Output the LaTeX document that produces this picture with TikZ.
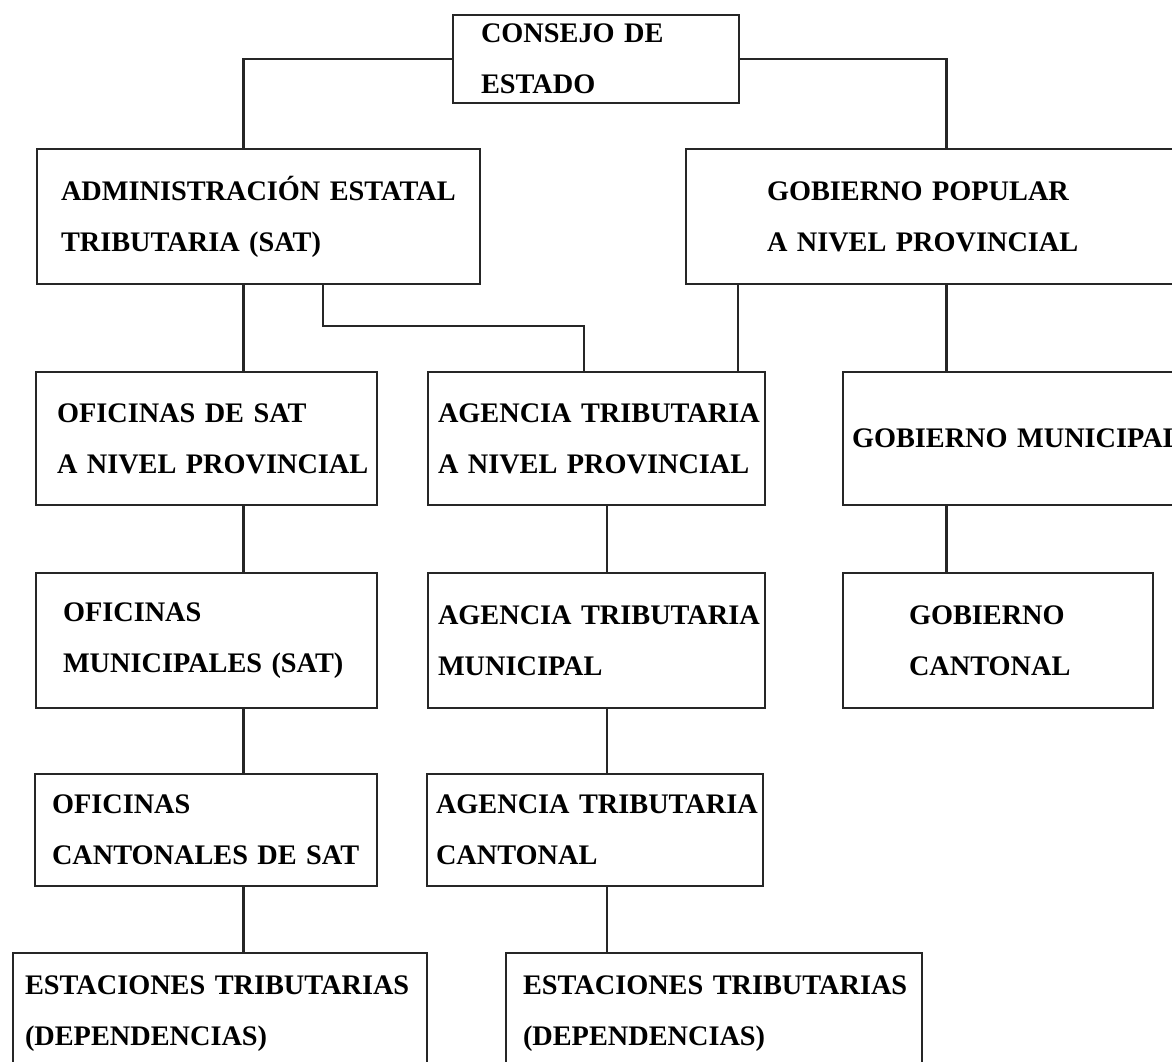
\documentclass[tikz,border=0pt]{standalone}
\usepackage{fontspec}
\setmainfont{Liberation Serif}
\usetikzlibrary{positioning}
\hyphenpenalty=10000
\exhyphenpenalty=10000

\begin{document}
\begin{tikzpicture}[
  x=1pt, y=-1pt,
  box/.style={rectangle, draw=black!85, line width=2.5pt, inner sep=0pt, align=left, text=black, font=\bfseries\fontsize{28.3}{51}\selectfont},
  link/.style={draw=black!85, line width=2.3pt}
]
\useasboundingbox (0,0) rectangle (1172,1062);

% Top
\node[box, minimum width=286pt, minimum height=88pt, text width=230pt] (consejo) at (596,59) {CONSEJO~DE\\ESTADO};

% Second row
\node[box, minimum width=443pt, minimum height=135pt, text width=395pt] (admin) at (258.5,216.5) {ADMINISTRACIÓN~ESTATAL\\TRIBUTARIA~(SAT)};
\node[box, minimum width=494pt, minimum height=135pt, text width=332pt] (gobpop) at (933,216.5) {GOBIERNO~POPULAR\\A~NIVEL~PROVINCIAL};

% Provincial level
\node[box, minimum width=341pt, minimum height=133pt, text width=299pt] (ofiprov) at (206.5,438.5) {OFICINAS~DE~SAT\\A~NIVEL~PROVINCIAL};
\node[box, minimum width=337pt, minimum height=133pt, text width=317pt] (agprov) at (596.5,438.5) {AGENCIA~TRIBUTARIA\\A~NIVEL~PROVINCIAL};
\node[box, minimum width=337pt, minimum height=133pt, text width=319pt] (gobmun) at (1011.5,438.5) {GOBIERNO~MUNICIPAL};

% Municipal level
\node[box, minimum width=341pt, minimum height=135pt, text width=287pt] (ofimun) at (206.5,640.5) {OFICINAS\\MUNICIPALES~(SAT)};
\node[box, minimum width=337pt, minimum height=135pt, text width=317pt] (agmun) at (596.5,640.5) {AGENCIA~TRIBUTARIA\\MUNICIPAL};
\node[box, minimum width=310pt, minimum height=135pt, text width=178pt] (gobcant) at (998,640.5) {GOBIERNO\\CANTONAL};

% Cantonal level
\node[box, minimum width=342pt, minimum height=112pt, text width=308pt] (oficant) at (206,830) {OFICINAS\\CANTONALES~DE~SAT};
\node[box, minimum width=336pt, minimum height=112pt, text width=318pt] (agcant) at (595,830) {AGENCIA~TRIBUTARIA\\CANTONAL};

% Stations
\node[box, minimum width=414pt, minimum height=122pt, text width=390pt] (est1) at (220,1014) {ESTACIONES~TRIBUTARIAS\\(DEPENDENCIAS)};
\node[box, minimum width=416pt, minimum height=122pt, text width=382pt] (est2) at (714,1014) {ESTACIONES~TRIBUTARIAS\\(DEPENDENCIAS)};

% Column lines
\coordinate (colA) at (243.5,0);
\coordinate (colB) at (607,0);
\coordinate (colC) at (946.5,0);
\coordinate (colD) at (738,0);
\coordinate (split) at (323,326);
\coordinate (splitend) at (584,0);

% Edges
\draw[link] (consejo.west) -| (admin.north -| colA);
\draw[link] (consejo.east) -| (gobpop.north -| colC);
\draw[link] (admin.south -| colA) -- (ofiprov.north -| colA);
\draw[link] (admin.south -| split) -- (split) -| (agprov.north -| splitend);
\draw[link] (gobpop.south -| colD) -- (agprov.north -| colD);
\draw[link] (gobpop.south -| colC) -- (gobmun.north -| colC);
\draw[link] (ofiprov.south -| colA) -- (ofimun.north -| colA);
\draw[link] (agprov.south -| colB) -- (agmun.north -| colB);
\draw[link] (gobmun.south -| colC) -- (gobcant.north -| colC);
\draw[link] (ofimun.south -| colA) -- (oficant.north -| colA);
\draw[link] (agmun.south -| colB) -- (agcant.north -| colB);
\draw[link] (oficant.south -| colA) -- (est1.north -| colA);
\draw[link] (agcant.south -| colB) -- (est2.north -| colB);

\end{tikzpicture}
\end{document}
